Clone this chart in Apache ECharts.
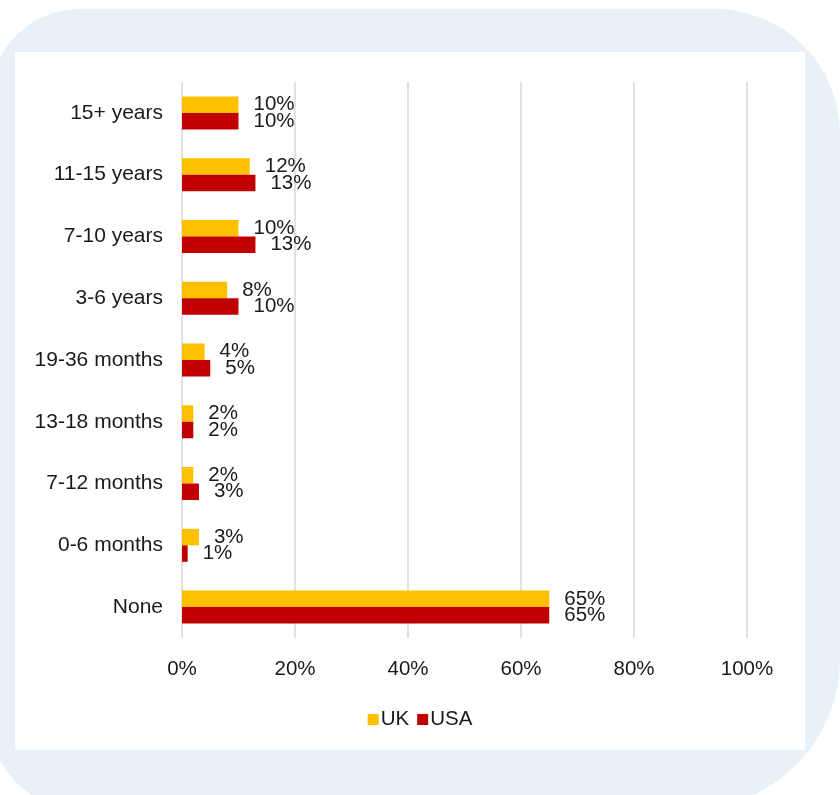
<!DOCTYPE html>
<html>
<head>
<meta charset="utf-8">
<script src="https://cdn.jsdelivr.net/npm/echarts@6/dist/echarts.min.js"></script>
<style>
  html, body { margin: 0; padding: 0; background: #ffffff; }
  #chart { width: 840px; height: 795px; }
</style>
</head>
<body>
<div id="chart"></div>
<script>
// Tenure categories, listed top to bottom
const categories = ['15+ years', '11-15 years', '7-10 years', '3-6 years', '19-36 months',
                    '13-18 months', '7-12 months', '0-6 months', 'None'];
// Share of respondents (%)
const ukValues  = [10, 12, 10, 8, 4, 2, 2, 3, 65];
const usaValues = [10, 13, 13, 10, 5, 2, 3, 1, 65];
const xTicks = [0, 20, 40, 60, 80, 100];

const FONT = '"Liberation Sans", Arial, sans-serif';

const chart = echarts.init(document.getElementById('chart'), null, { renderer: 'canvas' });

const labelStyle = {
  show: true,
  position: 'right',
  distance: 15,
  formatter: p => p.value + '%',
  color: '#1a1a1a',
  fontFamily: FONT,
  fontSize: 20.5
};

chart.setOption({
  animation: false,
  backgroundColor: '#ffffff',
  graphic: [
    {
      type: 'rect', z: -10, silent: true,
      shape: { x: -10, y: 9, width: 850, height: 800, r: [90, 125, 150, 90] },
      style: { fill: '#E8F0F8' }
    },
    {
      type: 'rect', z: -9, silent: true,
      shape: { x: 15, y: 52, width: 790, height: 698 },
      style: { fill: '#ffffff' }
    }
  ],
  legend: {
    data: ['UK', 'USA'],
    bottom: 60,
    left: 'center',
    itemWidth: 11,
    itemHeight: 11,
    itemGap: 8,
    icon: 'rect',
    textStyle: { fontFamily: FONT, fontSize: 20.5, color: '#1a1a1a', padding: [0, 0, 0, -3] }
  },
  grid: { left: 182, right: 93, top: 82, bottom: 157, containLabel: false },
  xAxis: {
    type: 'value',
    min: xTicks[0],
    max: xTicks[xTicks.length - 1],
    interval: 20,
    axisLine: { show: false },
    axisTick: { show: false },
    axisLabel: {
      formatter: v => v + '%',
      fontFamily: FONT, fontSize: 20.5, color: '#1a1a1a', margin: 21
    },
    splitLine: { show: true, lineStyle: { color: '#D9D9D9', width: 1.5 } }
  },
  yAxis: {
    type: 'category',
    data: categories,
    inverse: true,
    axisLine: { show: false },
    axisTick: { show: false },
    axisLabel: { fontFamily: FONT, fontSize: 21, color: '#1a1a1a', margin: 19 }
  },
  series: [
    {
      name: 'UK', type: 'bar', data: ukValues,
      barWidth: 16.5, barGap: '0%',
      itemStyle: { color: '#FFC000' },
      label: labelStyle
    },
    {
      name: 'USA', type: 'bar', data: usaValues,
      barWidth: 16.5, barGap: '0%',
      itemStyle: { color: '#C00000' },
      label: labelStyle
    }
  ]
});
</script>
</body>
</html>
